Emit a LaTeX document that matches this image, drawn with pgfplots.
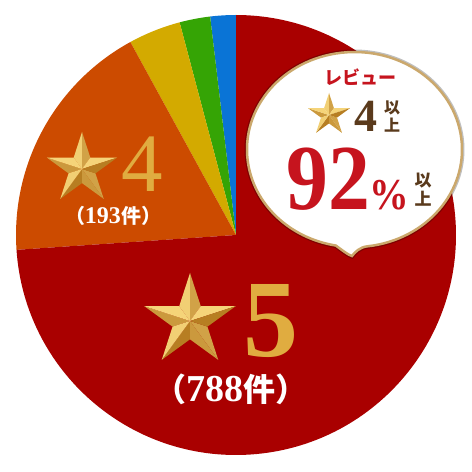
\documentclass[border=0pt]{standalone}
\usepackage{fontspec}
\setmainfont{Liberation Serif}
\newfontfamily\jp{Noto Sans CJK JP}
\usepackage{pgfplots}
\usepackage{pgfplotstable}
\pgfplotsset{compat=1.18}

\definecolor{c1}{HTML}{0A74D6}
\definecolor{c2}{HTML}{35A405}
\definecolor{c3}{HTML}{D3AA00}
\definecolor{c4}{HTML}{CC4B00}
\definecolor{c5}{HTML}{A90000}
\definecolor{glight}{HTML}{FADB80}
\definecolor{gdark}{HTML}{B07418}
\definecolor{goldtxt}{HTML}{E0AC40}
\definecolor{bubred}{HTML}{C6141E}
\definecolor{bubbrown}{HTML}{5A3A1C}
\definecolor{bubline}{HTML}{CBA86C}

% review counts per star rating (1..5)
\pgfplotstableread{
stars count color
1 20 c1
2 24 c2
3 41 c3
4 193 c4
5 788 c5
}\reviews

% beveled gold star: centre x, centre y (pixels from top), outer radius
\newcommand{\goldstar}[3]{%
  \begin{scope}[shift={({#1},{472-#2})}]
    \foreach \k in {0,...,4}{%
      \pgfmathsetmacro\a{90+72*\k}%
      \pgfmathtruncatemacro\bl{55+45*cos(\a+72-120)}%
      \pgfmathtruncatemacro\br{55+45*cos(\a-72-120)}%
      \fill[glight!\bl!gdark] (0,0) -- (\a:#3) -- ({\a+36}:{0.382*#3}) -- cycle;
      \fill[glight!\br!gdark] (0,0) -- (\a:#3) -- ({\a-36}:{0.382*#3}) -- cycle;
    }
  \end{scope}}

\begin{document}
\begin{tikzpicture}[x=1pt,y=1pt]
\useasboundingbox (0,0) rectangle (472,472);
\begin{axis}[
    at={(0,0)}, anchor=south west,
    scale only axis,
    width=472pt, height=472pt,
    xmin=0, xmax=472, ymin=0, ymax=472,
    hide axis, clip=false]
  \def\total{0}
  \pgfplotsforeachungrouped \i in {0,...,4}{%
    \pgfplotstablegetelem{\i}{count}\of\reviews
    \pgfmathsetmacro\total{\total+\pgfplotsretval}}
  \def\startang{90}
  \pgfplotsforeachungrouped \i in {0,...,4}{%
    \pgfplotstablegetelem{\i}{count}\of\reviews \let\cnt\pgfplotsretval
    \pgfplotstablegetelem{\i}{color}\of\reviews \let\col\pgfplotsretval
    \pgfmathsetmacro\endang{\startang+\cnt/\total*360}%
    \edef\doslice{\noexpand\fill[\col] (axis cs:236,237) -- ++(\startang:220pt)
      arc[start angle=\startang, end angle=\endang, radius=220pt] -- cycle;}%
    \doslice
    \let\startang\endang
  }
\end{axis}

% labels on the pie
\goldstar{190}{321}{48}
\node[anchor=base west, inner sep=0, text=goldtxt,
  font=\bfseries\fontsize{110}{110}\selectfont] at (243,115) {5};
\node[anchor=base, inner sep=0, text=white] at (231,70)
  {{\jp\bfseries\fontsize{32}{32}\selectfont （}{\bfseries\fontsize{38}{38}\selectfont 788}{\jp\bfseries\fontsize{32}{32}\selectfont 件）}};

\goldstar{82}{169}{37}
\node[anchor=base west, inner sep=0, text=goldtxt,
  font=\fontsize{83}{83}\selectfont] at (121,280) {4};
\node[anchor=base, inner sep=0, text=white] at (113,248)
  {{\jp\bfseries\fontsize{20}{20}\selectfont （}{\bfseries\fontsize{24}{24}\selectfont 193}{\jp\bfseries\fontsize{20}{20}\selectfont 件）}};

% speech bubble
\def\bubble{(367.6,225.7) arc[start angle=277, end angle=620, x radius=107.5, y radius=97.5]
  .. controls (342,222) and (348,217) .. (352,216)
  .. controls (355,220) and (360,225) .. cycle}
\draw[line width=5pt, draw=black, opacity=.25] \bubble;
\draw[line width=2.5pt, draw=bubline, fill=white] \bubble;

\node[anchor=base, inner sep=0, text=bubred, font=\jp\bfseries\fontsize{18}{18}\selectfont] at (360,387) {レビュー};
\goldstar{329}{115}{22}
\node[anchor=base west, inner sep=0, text=bubbrown, font=\bfseries\fontsize{46}{46}\selectfont] at (354,340) {4};
\node[inner sep=0, text=bubbrown, font=\jp\bfseries\fontsize{16}{16}\selectfont] at (392,364) {以};
\node[inner sep=0, text=bubbrown, font=\jp\bfseries\fontsize{16}{16}\selectfont] at (392,347) {上};
\node[anchor=base west, inner sep=0, text=bubred, xscale=0.9, font=\bfseries] at (286,262)
  {{\fontsize{93}{93}\selectfont 92}{\fontsize{44}{44}\selectfont\%}};
\node[inner sep=0, text=bubbrown, font=\jp\bfseries\fontsize{17}{17}\selectfont] at (423,291) {以};
\node[inner sep=0, text=bubbrown, font=\jp\bfseries\fontsize{17}{17}\selectfont] at (423,273) {上};
\end{tikzpicture}
\end{document}
